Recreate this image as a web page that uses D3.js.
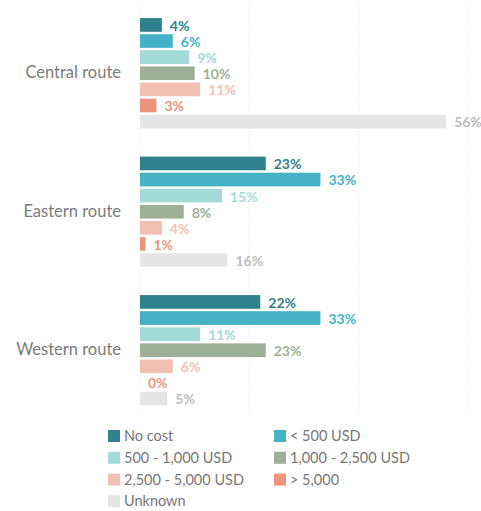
<!DOCTYPE html>
<html>
<head>
  <meta charset="utf-8">
  <title>Cost by route</title>
  <script src="https://d3js.org/d3.v7.min.js"></script>
  <style>
    body { margin: 0; background: #fff; }
    text { font-family: Lato, "Open Sans", sans-serif; }
  </style>
</head>
<body>
  <div id="chart"></div>
  <script>
    // routes and cost categories
    const routes = ["Central route", "Eastern route", "Western route"];
    const costs = ["No cost", "< 500 USD", "500 - 1,000 USD", "1,000 - 2,500 USD",
                   "2,500 - 5,000 USD", "> 5,000", "Unknown"];
    const colors = ["#2f818b", "#45b3c3", "#a5dbd6", "#9daf95", "#f2c0b3", "#eb937c", "#e5e5e5"];
    const labelColors = ["#2f818b", "#45b3c3", "#a5dbd6", "#9daf95", "#f2c0b3", "#eb937c", "#bdbdbd"];

    // percent per cost category, one array per route
    const central = [4, 6, 9, 10, 11, 3, 56];
    const eastern = [23, 33, 15, 8, 4, 1, 16];
    const western = [22, 33, 11, 23, 6, 0, 5];
    const gridTicks = [0, 20, 40, 60];

    const values = [central, eastern, western];

    const width = 481, height = 511;
    const svg = d3.select("#chart").append("svg")
      .attr("width", width)
      .attr("height", height);

    const x = d3.scaleLinear().domain([0, 60]).range([140, 468]);
    const y0 = d3.scaleBand().domain(routes).range([4, 419.5]);
    const y1 = d3.scaleBand().domain(costs).range([0, y0.bandwidth()])
      .paddingInner(0.15).paddingOuter(0.875);

    // dotted vertical gridlines
    svg.append("g").selectAll("line")
      .data(gridTicks)
      .join("line")
      .attr("x1", d => x(d)).attr("x2", d => x(d))
      .attr("y1", 2).attr("y2", 416)
      .attr("stroke", "#e3ecee")
      .attr("stroke-dasharray", "1,2");

    const groups = svg.selectAll("g.route")
      .data(routes)
      .join("g")
      .attr("class", "route")
      .attr("transform", d => `translate(0,${y0(d)})`);

    groups.append("text")
      .attr("x", 121)
      .attr("y", y0.bandwidth() / 2 - 1)
      .attr("dy", "0.35em")
      .attr("text-anchor", "end")
      .attr("fill", "#7b7b7b")
      .attr("font-size", 16.5)
      .text(d => d);

    groups.each(function(route, ri) {
      const g = d3.select(this);
      const rows = costs.map((c, i) => ({ cost: c, value: values[ri][i], i }));

      g.selectAll("rect")
        .data(rows)
        .join("rect")
        .attr("x", x(0))
        .attr("y", d => y1(d.cost))
        .attr("width", d => x(d.value) - x(0))
        .attr("height", y1.bandwidth())
        .attr("fill", d => colors[d.i]);

      g.selectAll("text.val")
        .data(rows)
        .join("text")
        .attr("class", "val")
        .attr("x", d => x(d.value) + 8)
        .attr("y", d => y1(d.cost) + y1.bandwidth() / 2 + 1)
        .attr("dy", "0.35em")
        .attr("fill", d => labelColors[d.i])
        .attr("font-size", 14)
        .attr("font-weight", "bold")
        .text(d => d.value + "%");
    });

    // legend, two columns
    const legend = svg.append("g").selectAll("g")
      .data(costs)
      .join("g")
      .attr("transform", (d, i) => `translate(${i % 2 ? 274 : 108},${436 + Math.floor(i / 2) * 21.8})`);

    legend.append("rect")
      .attr("x", 0).attr("y", -6)
      .attr("width", 12).attr("height", 12)
      .attr("fill", (d, i) => colors[i]);

    legend.append("text")
      .attr("x", 16)
      .attr("dy", "0.35em")
      .attr("fill", "#777")
      .attr("font-size", 14.5)
      .text(d => d);
  </script>
</body>
</html>
